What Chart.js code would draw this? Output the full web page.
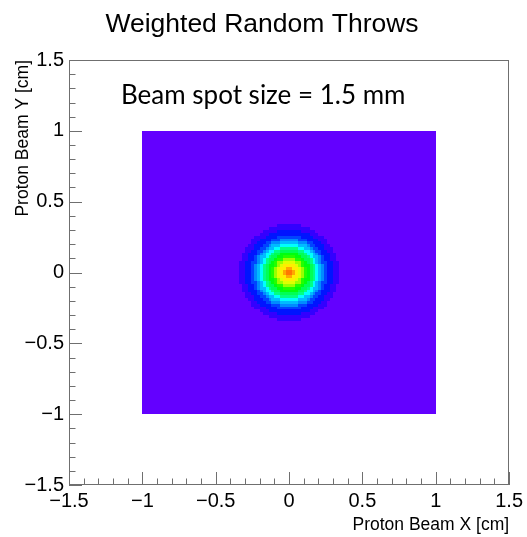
<!DOCTYPE html>
<html>
<head>
<meta charset="utf-8">
<script src="https://cdn.jsdelivr.net/npm/chart.js@4/dist/chart.umd.min.js"></script>
<style>
  html, body { margin: 0; padding: 0; background: #ffffff; }
  #wrap { width: 527px; height: 537px; }
</style>
</head>
<body>
<div id="wrap"><canvas id="c" width="527" height="537"></canvas></div>
<script>
// Histogram binning (cm)
const binLow = -1.0;
const binHigh = 1.0;
const nBins = 100;

// Beam spot radial profile: outer radius of each ring (cm) and weighted bin content inside it
const ringOuterRadius = [0.02, 0.04, 0.06, 0.08, 0.10, 0.12, 0.14, 0.16, 0.18,
                         0.20, 0.22, 0.24, 0.26, 0.28, 0.30, 0.32, 0.34];
const ringContent     = [1770, 1660, 1540, 1430, 1320, 1140, 1040, 930, 830,
                         650, 540, 430, 340, 250, 220, 180, 130];
// Content of the flat part of the target outside the spot
const backgroundContent = 40;

// Colour scale
const zMax = 2000;
const nContours = 20;

// Axis ranges and labels
const axisMin = -1.5;
const axisMax = 1.5;
const axisStep = 0.5;
const titleText = 'Weighted Random Throws';
const xTitle = 'Proton Beam X [cm]';
const yTitle = 'Proton Beam Y [cm]';
const noteText = 'Beam spot size = 1.5 mm';

// Build the 2D histogram cells
const binWidth = (binHigh - binLow) / nBins;
const cells = [];
for (let i = 0; i < nBins; i++) {
  for (let j = 0; j < nBins; j++) {
    const x = binLow + (i + 0.5) * binWidth;
    const y = binLow + (j + 0.5) * binWidth;
    const r = Math.hypot(x, y);
    let v = backgroundContent;
    for (let k = 0; k < ringOuterRadius.length; k++) {
      if (r < ringOuterRadius[k]) { v = ringContent[k]; break; }
    }
    cells.push({ x: x, y: y, v: v });
  }
}

// ROOT-style "pretty" palette (violet -> red), 50 colours
function contourColour(v) {
  let level = Math.floor(v / zMax * nContours);
  level = Math.max(0, Math.min(nContours - 1, level));
  const idx = Math.floor((level + 0.99) * 50 / nContours);
  const hue = Math.max(0, 280 - (idx + 1) * 5.6);
  return 'hsl(' + hue.toFixed(1) + ',100%,50%)';
}

function fmtTick(v) {
  const a = Math.abs(v);
  const s = String(Math.round(a * 10) / 10);
  return (v < -1e-9 ? '\u2212' : '') + s;
}

const frameColour = '#6f6f6f';

const histPlugin = {
  id: 'hist2d',
  beforeDatasetsDraw(chart) {
    const ctx = chart.ctx;
    const xs = chart.scales.x, ys = chart.scales.y;
    const data = chart.data.datasets[0].data;
    const half = binWidth / 2;
    ctx.save();
    for (const c of data) {
      const x0 = Math.round(xs.getPixelForValue(c.x - half));
      const x1 = Math.round(xs.getPixelForValue(c.x + half));
      const y0 = Math.round(ys.getPixelForValue(c.y + half));
      const y1 = Math.round(ys.getPixelForValue(c.y - half));
      ctx.fillStyle = contourColour(c.v);
      ctx.fillRect(x0, y0, x1 - x0, y1 - y0);
    }
    ctx.restore();
  },
  afterDraw(chart) {
    const ctx = chart.ctx;
    const a = chart.chartArea;
    const xs = chart.scales.x, ys = chart.scales.y;
    ctx.save();
    // Frame
    ctx.strokeStyle = frameColour;
    ctx.lineWidth = 1;
    ctx.strokeRect(Math.round(a.left) + 0.5, Math.round(a.top) + 0.5,
                   Math.round(a.right - a.left) - 1, Math.round(a.bottom - a.top) - 1);
    // Ticks inside the frame (major every 0.5, minor every 0.1)
    ctx.beginPath();
    for (let n = 0; n <= 30; n++) {
      const val = axisMin + n * 0.1;
      const major = n % 5 === 0;
      const len = major ? 13 : 6.5;
      const px = Math.round(xs.getPixelForValue(val)) + 0.5;
      ctx.moveTo(px, a.bottom);
      ctx.lineTo(px, a.bottom - len);
      const py = Math.round(ys.getPixelForValue(val)) + 0.5;
      ctx.moveTo(a.left, py);
      ctx.lineTo(a.left + len, py);
    }
    ctx.stroke();

    // Title
    ctx.fillStyle = '#000000';
    ctx.font = '26.5px "Liberation Sans", Arial, sans-serif';
    ctx.textAlign = 'center';
    ctx.textBaseline = 'alphabetic';
    ctx.fillText(titleText, 262, 32);

    // Axis titles
    ctx.font = '17.5px "Liberation Sans", Arial, sans-serif';
    ctx.textAlign = 'right';
    ctx.fillText(xTitle, a.right, 530);
    ctx.save();
    ctx.translate(28, a.top);
    ctx.rotate(-Math.PI / 2);
    ctx.textAlign = 'right';
    ctx.fillText(yTitle, 0, 0);
    ctx.restore();

    // Annotation
    ctx.font = '26px Lato, "Open Sans", sans-serif';
    ctx.textAlign = 'left';
    ctx.fillText(noteText, 121, 104);
    ctx.restore();
  }
};

new Chart(document.getElementById('c'), {
  type: 'scatter',
  data: {
    datasets: [{
      label: 'Weighted throws',
      data: cells,
      pointRadius: 0,
      pointHoverRadius: 0,
      showLine: false
    }]
  },
  options: {
    responsive: false,
    animation: false,
    devicePixelRatio: 1,
    layout: { padding: { top: 60, right: 15, left: 0, bottom: 0 } },
    plugins: {
      legend: { display: false },
      tooltip: { enabled: false },
      title: { display: false }
    },
    scales: {
      x: {
        type: 'linear',
        min: axisMin,
        max: axisMax,
        grid: { display: false, drawTicks: false },
        border: { display: false },
        ticks: {
          stepSize: axisStep,
          maxRotation: 0,
          autoSkip: false,
          padding: 4,
          color: '#000000',
          font: { family: '"Liberation Sans", Arial, sans-serif', size: 20 },
          callback: (v) => fmtTick(v)
        },
        afterFit(scale) { scale.height = 52; }
      },
      y: {
        type: 'linear',
        min: axisMin,
        max: axisMax,
        grid: { display: false, drawTicks: false },
        border: { display: false },
        ticks: {
          stepSize: axisStep,
          autoSkip: false,
          padding: 5,
          color: '#000000',
          font: { family: '"Liberation Sans", Arial, sans-serif', size: 20 },
          callback: (v) => fmtTick(v)
        },
        afterFit(scale) { scale.width = 69; }
      }
    }
  },
  plugins: [histPlugin]
});
</script>
</body>
</html>
